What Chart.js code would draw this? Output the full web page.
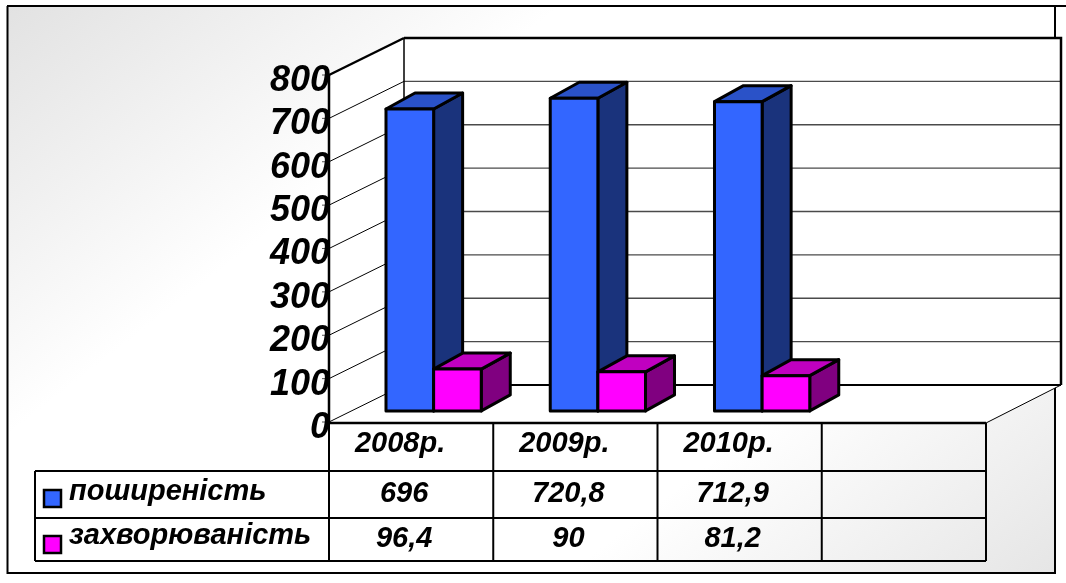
<!DOCTYPE html>
<html><head><meta charset="utf-8">
<script src="https://cdn.jsdelivr.net/npm/chart.js@4"></script>
<style>html,body{margin:0;padding:0;background:#fff;overflow:hidden;} canvas{display:block;}</style>
</head><body>
<canvas id="c" width="1066" height="583"></canvas>
<script>
// ---- data ----
const categories = ['2008р.', '2009р.', '2010р.', ''];
const seriesNames = ['поширеність', 'захворюваність'];
const prevalence = [696, 720.8, 712.9, null];
const incidence = [96.4, 90, 81.2, null];
const yTicks = [0, 100, 200, 300, 400, 500, 600, 700, 800];

// ---- styles ----
const FONT = '"Liberation Sans", Arial, sans-serif';
const frontColors = ['#3366FF', '#FF00FF'];
const topColors = ['#2A52C8', '#C000C0'];
const sideColors = ['#1A337C', '#800080'];
const D = {x: 75, y: -37};     // wall depth vector
const F = 0.3;                 // bar front plane position (fraction of depth)
const BD = {x: 29, y: -16};    // bar depth vector

function fmt(v) { return v === null ? '' : String(v).replace('.', ','); }

function line(ctx, pts, w, color) {
  ctx.beginPath();
  ctx.moveTo(pts[0][0], pts[0][1]);
  for (let i = 1; i < pts.length; i++) ctx.lineTo(pts[i][0], pts[i][1]);
  ctx.lineWidth = w; ctx.strokeStyle = color; ctx.stroke();
}

function poly(ctx, pts, fill, w) {
  ctx.beginPath();
  ctx.moveTo(pts[0][0], pts[0][1]);
  for (let i = 1; i < pts.length; i++) ctx.lineTo(pts[i][0], pts[i][1]);
  ctx.closePath();
  ctx.fillStyle = fill; ctx.fill();
  if (w) { ctx.lineWidth = w; ctx.strokeStyle = '#000'; ctx.stroke(); }
}

const threeD = {
  id: 'threeD',
  beforeDraw(chart) {
    const ctx = chart.ctx;
    const ys = chart.scales.y, xs = chart.scales.x;
    const L = chart.chartArea.left, R = chart.chartArea.right;
    const y0 = ys.getPixelForValue(0), yT = ys.getPixelForValue(800);
    ctx.save();
    ctx.lineJoin = 'miter';
    // background
    ctx.fillStyle = '#fff'; ctx.fillRect(0, 0, chart.width, chart.height);
    const g = ctx.createLinearGradient(7, 6, 700, 900);
    g.addColorStop(0, '#e2e2e2'); g.addColorStop(0.3, '#ffffff');
    g.addColorStop(0.7, '#ffffff'); g.addColorStop(1, '#e2e2e2');
    ctx.fillStyle = g; ctx.fillRect(7, 6, 1048, 567);
    // outer frame
    line(ctx, [[7, 6], [1066, 6]], 2, '#000');
    line(ctx, [[7.5, 6], [7.5, 573], [1055, 573], [1055, 6]], 2, '#000');

    // back wall
    poly(ctx, [[L + D.x, yT + D.y], [R + D.x, yT + D.y], [R + D.x, y0 + D.y], [L + D.x, y0 + D.y]], '#fff', 0);
    // side wall
    poly(ctx, [[L, yT], [L + D.x, yT + D.y], [L + D.x, y0 + D.y], [L, y0]], '#fff', 0);
    // floor
    poly(ctx, [[L, y0], [L + D.x, y0 + D.y], [R + D.x, y0 + D.y], [R, y0]], '#fff', 0);

    // gridlines
    yTicks.forEach(v => {
      const y = ys.getPixelForValue(v);
      if (v !== 0 && v !== 800) line(ctx, [[L + D.x, y + D.y], [R + D.x, y + D.y]], 1.4, '#4a4a4a');
      line(ctx, [[L, y], [L + D.x, y + D.y]], v === 800 ? 2.5 : 1, '#000');
      line(ctx, [[L - 7, y], [L, y]], 1, '#555');
    });
    // back wall edges
    line(ctx, [[L + D.x, yT + D.y], [R + D.x, yT + D.y], [R + D.x, y0 + D.y]], 2.5, '#000');
    line(ctx, [[L + D.x, y0 + D.y], [R + D.x, y0 + D.y]], 2.2, '#000');
    line(ctx, [[L + D.x, yT + D.y], [L + D.x, y0 + D.y]], 1.5, '#000');
    // floor right edge
    line(ctx, [[R, y0 + 1], [R + D.x, y0 + D.y]], 1, '#000');
    // front axis
    line(ctx, [[L, yT], [L, y0 + 1]], 2.5, '#000');

    // y labels
    ctx.fillStyle = '#000';
    ctx.font = 'italic bold 36px ' + FONT;
    ctx.textAlign = 'right'; ctx.textBaseline = 'middle';
    yTicks.forEach(v => {
      ctx.fillText(String(v), L + 1, ys.getPixelForValue(v) + 6);
    });

    // data table
    const n = categories.length;
    const cw = (R - L) / n;
    const tTop = y0 + 1, r1 = 471, r2 = 518, r3 = 561, tLeft = 35;
    line(ctx, [[L, tTop], [R, tTop]], 2.5, '#000');
    [r1, r2, r3].forEach(y => line(ctx, [[tLeft, y], [R, y]], 2, '#000'));
    line(ctx, [[tLeft, r1], [tLeft, r3]], 2, '#000');
    for (let i = 0; i <= n; i++) line(ctx, [[L + i * cw, tTop], [L + i * cw, r3]], 2, '#000');

    ctx.font = 'italic bold 29px ' + FONT;
    ctx.textAlign = 'center'; ctx.textBaseline = 'alphabetic';
    const series = [prevalence, incidence];
    for (let i = 0; i < n; i++) {
      const cx = xs.getPixelForValue(i);
      ctx.fillText(categories[i], cx - 11, 452);
      ctx.fillText(fmt(series[0][i]), cx - 7, 502);
      ctx.fillText(fmt(series[1][i]), cx - 7, 547);
    }
    // legend keys in table
    ctx.textAlign = 'left';
    const keyY = [490, 536], txtY = [500, 544];
    for (let s = 0; s < 2; s++) {
      ctx.fillStyle = frontColors[s];
      ctx.fillRect(44, keyY[s], 17, 17);
      ctx.lineWidth = 2.5; ctx.strokeStyle = '#000';
      ctx.strokeRect(44, keyY[s], 17, 17);
      ctx.fillStyle = '#000';
      ctx.fillText(seriesNames[s], 69, txtY[s]);
    }
    ctx.restore();
  },
  beforeDatasetDraw() { return false; },
  afterDatasetsDraw(chart) {
    const ctx = chart.ctx;
    ctx.save();
    ctx.lineJoin = 'round';
    const n = categories.length;
    for (let i = 0; i < n; i++) {
      for (let s = 0; s < 2; s++) {
        const el = chart.getDatasetMeta(s).data[i];
        if (!el || chart.data.datasets[s].data[i] === null) continue;
        const x1 = el.x - el.width / 2 + F * D.x, x2 = el.x + el.width / 2 + F * D.x;
        const yt = el.y + F * D.y, yb = el.base + F * D.y;
        poly(ctx, [[x2, yt], [x2 + BD.x, yt + BD.y], [x2 + BD.x, yb + BD.y], [x2, yb]], sideColors[s], 3);
        poly(ctx, [[x1, yt], [x1 + BD.x, yt + BD.y], [x2 + BD.x, yt + BD.y], [x2, yt]], topColors[s], 3);
        poly(ctx, [[x1, yt], [x2, yt], [x2, yb], [x1, yb]], frontColors[s], 3);
      }
    }
    ctx.restore();
  }
};

new Chart(document.getElementById('c'), {
  type: 'bar',
  data: {
    labels: categories,
    datasets: [
      {label: seriesNames[0], data: prevalence, backgroundColor: frontColors[0]},
      {label: seriesNames[1], data: incidence, backgroundColor: frontColors[1]}
    ]
  },
  options: {
    responsive: false,
    devicePixelRatio: 1,
    animation: false,
    layout: {padding: {left: 329, right: 80, top: 75, bottom: 161}},
    datasets: {bar: {categoryPercentage: 0.58, barPercentage: 1.0}},
    plugins: {legend: {display: false}, tooltip: {enabled: false}, title: {display: false}},
    scales: {
      x: {display: false},
      y: {display: false, min: 0, max: 800, ticks: {stepSize: 100}}
    }
  },
  plugins: [threeD]
});
</script>
</body></html>
